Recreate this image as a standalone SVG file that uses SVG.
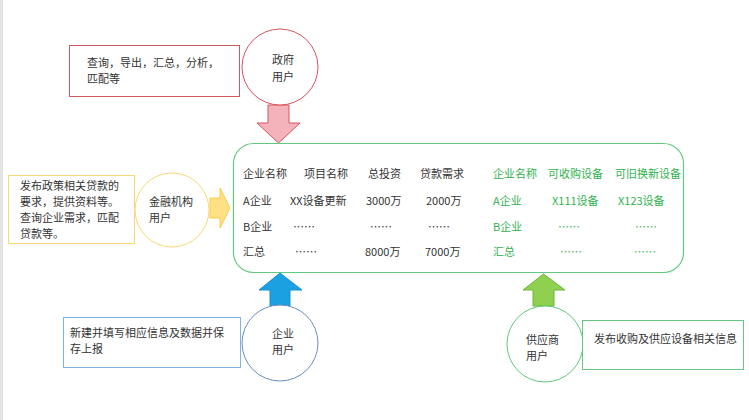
<svg xmlns="http://www.w3.org/2000/svg" width="749" height="420" viewBox="0 0 749 420">
<style>
text{font-family:"Noto Sans CJK SC","Noto Sans",sans-serif;font-size:11px;fill:#333;dominant-baseline:central}
.g{fill:#2fb24f}
.m{text-anchor:middle}
.box{fill:#fff;stroke-width:1}
</style>
<rect x="0" y="0" width="749" height="420" fill="#fff"/>
<rect x="0" y="0" width="3" height="420" fill="#e3e3e3"/>

<g id="connectors">
<path id="arrow-gov" d="M268,105 H289 V123 H300 L278.5,143 L257,123 H268 Z" fill="#f4b3ba" stroke="#d9545e" stroke-width="1"/>
<path id="arrow-fin" d="M210,198 H220 V188 L230,208 L220,228 V218 H210 Z" fill="#ffe085" stroke="#f7cd4f" stroke-width="1"/>
<path id="arrow-ent" d="M270,306 V290 H259 L280,273 L302,290 H290 V306 Z" fill="#1ba1e2" stroke="#1c8fd0" stroke-width="1"/>
<path id="arrow-sup" d="M533,306 V290 H523 L543.5,274 L565,290 H554 V306 Z" fill="#8fd04f" stroke="#6ab83a" stroke-width="1"/>
</g>

<g id="table">
<rect x="233.5" y="143.5" width="450" height="129" rx="20" ry="20" fill="#fff" stroke="#62c97e" stroke-width="1.2"/>
<text x="243" y="173">企业名称</text>
<text x="304" y="173">项目名称</text>
<text x="368" y="173">总投资</text>
<text x="420" y="173">贷款需求</text>
<text class="g" x="493" y="173">企业名称</text>
<text class="g" x="548" y="173">可收购设备</text>
<text class="g" x="615" y="173">可旧换新设备</text>
<text x="243" y="200">A企业</text>
<text x="290" y="200">XX设备更新</text>
<text x="366" y="200">3000万</text>
<text x="426" y="200">2000万</text>
<text class="g" x="493" y="200">A企业</text>
<text class="g" x="552" y="200">X111设备</text>
<text class="g" x="618" y="200">X123设备</text>
<text x="243" y="226">B企业</text>
<text x="293" y="226">……</text>
<text x="370" y="226">……</text>
<text x="428" y="226">……</text>
<text class="g" x="493" y="226">B企业</text>
<text class="g" x="558" y="226">……</text>
<text class="g" x="635" y="226">……</text>
<text x="243" y="251">汇总</text>
<text x="295" y="251">……</text>
<text x="365" y="251">8000万</text>
<text x="425" y="251">7000万</text>
<text class="g" x="493" y="251">汇总</text>
<text class="g" x="560" y="251">……</text>
<text class="g" x="634" y="251">……</text>
</g>

<g id="gov-note">
<rect class="box" x="69.5" y="45.5" width="170" height="51" stroke="#d05a62"/>
<text x="87" y="62">查询，导出，汇总，分析，</text>
<text x="87" y="78">匹配等</text>
</g>
<g id="gov-user">
<circle cx="280" cy="67" r="38" fill="#fff" stroke="#d9545e" stroke-width="1"/>
<text class="m" x="283" y="59">政府</text>
<text class="m" x="283" y="76">用户</text>
</g>

<g id="fin-note">
<rect class="box" x="8.5" y="175.5" width="126" height="68" stroke="#fad776"/>
<text x="20" y="185">发布政策相关贷款的</text>
<text x="20" y="201">要求，提供资料等。</text>
<text x="20" y="217">查询企业需求，匹配</text>
<text x="20" y="233">贷款等。</text>
</g>
<g id="fin-user">
<circle cx="172" cy="210" r="37" fill="#fff" stroke="#fad776" stroke-width="1"/>
<text x="149" y="201">金融机构</text>
<text x="149" y="217">用户</text>
</g>

<g id="ent-note">
<rect class="box" x="63.5" y="317.5" width="177" height="50" stroke="#7fb3e3"/>
<text x="70" y="332">新建并填写相应信息及数据并保</text>
<text x="70" y="348">存上报</text>
</g>
<g id="ent-user">
<circle cx="280" cy="343" r="38" fill="#fff" stroke="#6c8ebf" stroke-width="1"/>
<text class="m" x="283" y="333">企业</text>
<text class="m" x="283" y="349">用户</text>
</g>

<g id="sup-user">
<circle cx="545" cy="344" r="38" fill="#fff" stroke="#62c97e" stroke-width="1"/>
<text x="526" y="339">供应商</text>
<text x="526" y="355">用户</text>
</g>
<g id="sup-note">
<rect class="box" x="582.5" y="320.5" width="161" height="49" stroke="#62c97e"/>
<text x="594" y="338">发布收购及供应设备相关信息</text>
</g>
</svg>
